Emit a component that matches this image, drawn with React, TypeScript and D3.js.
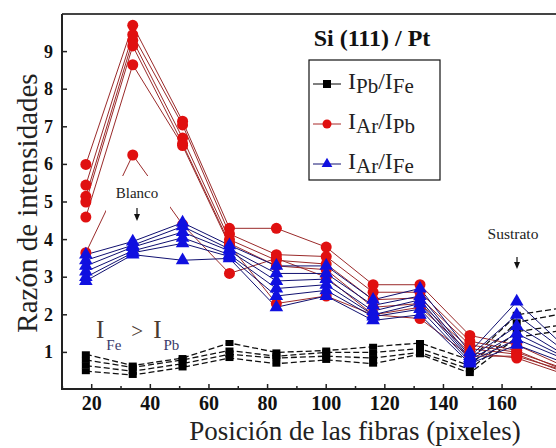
import React from 'react';
import * as d3 from 'd3';

// fibre positions (pixels)
const positions = [18, 34, 51, 67, 83, 100, 116, 132, 149, 165, 182];

// IAr/IPb (red circles), several runs
const arPb = [
  [6.0, 9.7, 7.15, 4.3, 4.3, 3.8, 2.8, 2.8, 1.45, 1.2, 0.6],
  [5.45, 9.45, 7.05, 4.15, 3.6, 3.55, 2.6, 2.6, 1.3, 1.05, 0.5],
  [5.15, 9.3, 6.7, 4.0, 3.45, 3.35, 2.4, 2.45, 1.2, 1.0, 0.55],
  [5.0, 9.15, 6.55, 3.9, 3.3, 3.2, 2.2, 2.3, 1.1, 0.95, 0.45],
  [4.6, 8.65, 6.5, 3.85, 2.3, 2.5, 2.0, 1.9, 0.9, 0.9, 0.5],
  [3.65, 6.25, 4.4, 3.1, 3.5, 3.0, 2.0, 2.2, 1.0, 0.85, 0.4],
];

// IAr/IFe (blue triangles)
const arFe = [
  [3.6, 3.95, 4.45, 3.85, 3.3, 3.3, 2.4, 2.7, 1.0, 2.35, 1.1],
  [3.45, 3.85, 4.35, 3.75, 3.1, 3.1, 2.25, 2.5, 0.9, 2.0, 1.0],
  [3.3, 3.8, 4.2, 3.7, 2.9, 2.95, 2.1, 2.4, 0.85, 1.7, 0.9],
  [3.15, 3.7, 4.05, 3.6, 2.7, 2.8, 2.0, 2.3, 0.8, 1.5, 0.85],
  [3.0, 3.65, 3.9, 3.55, 2.5, 2.65, 1.95, 2.15, 0.75, 1.35, 0.8],
  [2.9, 3.6, 3.45, 3.5, 2.2, 2.5, 1.85, 2.0, 0.7, 1.2, 0.7],
];

// IPb/IFe (black squares, dashed)
const pbFe = [
  [0.95, 0.65, 0.85, 1.25, 1.0, 1.05, 1.15, 1.25, 0.8, 2.0, 2.2],
  [0.8, 0.6, 0.8, 1.05, 0.9, 1.0, 1.0, 1.1, 0.65, 1.8, 2.05],
  [0.65, 0.5, 0.7, 0.95, 0.85, 0.9, 0.85, 1.0, 0.55, 1.55, 1.75],
  [0.5, 0.4, 0.6, 0.85, 0.7, 0.8, 0.7, 0.95, 0.45, 1.4, 1.6],
];

const xTicks = [20, 40, 60, 80, 100, 120, 140, 160];
const yTicks = [1, 2, 3, 4, 5, 6, 7, 8, 9];

const W = 556;
const H = 448;
const serif = { fontFamily: "'Liberation Serif', 'Times New Roman', 'DejaVu Serif', serif" };

export default function App() {
  const x = d3.scaleLinear().domain([10, 180]).range([62.4, 560.7]);
  const y = d3.scaleLinear().domain([0, 10]).range([390, 14]);
  const left = 62, right = 556, top = 14, bottom = 389;

  const line = d3.line<number>()
    .x((_, i) => x(positions[i]))
    .y(d => y(d));

  const minor = d3.range(10, 181, 10).filter(v => !xTicks.includes(v));
  const tri = d3.symbol().type(d3.symbolTriangle).size(80)();

  return (
    <div style={{ position: 'absolute', left: 0, top: 0 }}>
      <svg width={W} height={H} style={{ display: 'block', background: '#fff' }}>
        <defs>
          <clipPath id="plot">
            <rect x={left} y={top} width={right - left} height={bottom - top} />
          </clipPath>
        </defs>

        <g clipPath="url(#plot)">
          {/* lines */}
          {pbFe.map((s, k) => (
            <path key={'kl' + k} d={line(s) || ''} fill="none" stroke="#111" strokeWidth={1.3} strokeDasharray="6,3" />
          ))}
          {arPb.map((s, k) => (
            <path key={'rl' + k} d={line(s) || ''} fill="none" stroke="#9a2a2a" strokeWidth={1} />
          ))}
          {arFe.map((s, k) => (
            <path key={'bl' + k} d={line(s) || ''} fill="none" stroke="#101070" strokeWidth={1} />
          ))}

          {/* annotation boxes cover the lines */}
          <rect x={106} y={176} width={64} height={48} fill="#fff" />
          <rect x={482} y={222} width={62} height={48} fill="#fff" />

          {/* markers */}
          {pbFe.map((s, k) => s.map((v, i) => (
            <rect key={'km' + k + '-' + i} x={x(positions[i]) - 4} y={y(v) - 3} width={8} height={6} fill="#000" />
          )))}
          {arPb.map((s, k) => s.map((v, i) => (
            <circle key={'rm' + k + '-' + i} cx={x(positions[i])} cy={y(v)} r={5.5} fill="#e01010" />
          )))}
          {arFe.map((s, k) => s.map((v, i) => (
            <path key={'bm' + k + '-' + i} d={tri || ''} transform={`translate(${x(positions[i])},${y(v)})`} fill="#1010e0" />
          )))}
        </g>

        {/* frame */}
        <line x1={left} x2={right} y1={top} y2={top} stroke="#444" strokeWidth={2} />
        <line x1={left} x2={left} y1={top} y2={bottom + 1} stroke="#222" strokeWidth={2} />
        <line x1={left} x2={right} y1={bottom} y2={bottom} stroke="#222" strokeWidth={2} />

        {/* x axis */}
        {xTicks.map(t => (
          <g key={'xt' + t}>
            <line x1={x(t)} x2={x(t)} y1={bottom} y2={bottom - 5} stroke="#222" strokeWidth={1.5} />
            <text x={x(t)} y={410} textAnchor="middle" style={serif} fontWeight="bold" fontSize={20} fill="#111">{t}</text>
          </g>
        ))}
        {minor.map(t => (
          <line key={'xm' + t} x1={x(t)} x2={x(t)} y1={bottom} y2={bottom - 3} stroke="#222" strokeWidth={1.5} />
        ))}

        {/* y axis */}
        {yTicks.map(t => (
          <g key={'yt' + t}>
            <line x1={left} x2={left + 5} y1={y(t)} y2={y(t)} stroke="#222" strokeWidth={1.5} />
            <text x={53} y={y(t) + 6} textAnchor="end" style={serif} fontWeight="bold" fontSize={18} fill="#111">{t}</text>
          </g>
        ))}

        {/* axis titles */}
        <text transform="translate(37,203) rotate(-90)" textAnchor="middle" style={serif} fontSize={29} fill="#222">
          Razón de intensidades
        </text>
        <text x={355} y={440} textAnchor="middle" style={serif} fontSize={27} fill="#222">
          Posición de las fibras (pixeles)
        </text>

        {/* annotations */}
        <text x={137} y={198} textAnchor="middle" style={serif} fontSize={15} fill="#222">Blanco</text>
        <line x1={137} x2={137} y1={208} y2={219} stroke="#111" strokeWidth={1.2} />
        <path d="M134,214 L137,221 L140,214 Z" fill="#111" />
        <text x={513} y={239} textAnchor="middle" style={serif} fontSize={15.5} fill="#222">Sustrato</text>
        <line x1={517} x2={517} y1={257} y2={266} stroke="#111" strokeWidth={1.2} />
        <path d="M514,262 L517,269 L520,262 Z" fill="#111" />

        <text x={96} y={338} style={serif} fontSize={25} fill="#4a3a30">
          I<tspan fontSize={15} dy={12} dx={2} fill="#3a3a6a">Fe</tspan>
          <tspan dy={-12} dx={10} fontSize={21}>&gt;</tspan>
          <tspan dx={10}>I</tspan>
          <tspan fontSize={15} dy={12} dx={2} fill="#3a3a6a">Pb</tspan>
        </text>

        {/* title + legend */}
        <text x={372} y={46} textAnchor="middle" style={serif} fontWeight="bold" fontSize={24} fill="#111">Si (111) / Pt</text>
        <rect x={309} y={60} width={131} height={120} fill="#fff" stroke="#111" strokeWidth={1.2} />
        {[
          { c: '#000', m: 'sq', a: 'Pb', b: 'Fe' },
          { c: '#e01010', m: 'ci', a: 'Ar', b: 'Pb' },
          { c: '#1010e0', m: 'tr', a: 'Ar', b: 'Fe' },
        ].map((e, i) => {
          const ly = 84 + i * 40;
          return (
            <g key={'lg' + i}>
              <line x1={313} x2={341} y1={ly} y2={ly} stroke={i === 0 ? '#000' : i === 1 ? '#a82828' : '#101070'} strokeWidth={1} />
              {e.m === 'sq' && <rect x={323} y={ly - 4} width={8} height={8} fill={e.c} />}
              {e.m === 'ci' && <circle cx={327} cy={ly} r={4.5} fill={e.c} />}
              {e.m === 'tr' && <path d={d3.symbol().type(d3.symbolTriangle).size(50)() || ''} transform={`translate(327,${ly})`} fill={e.c} />}
              <text x={348} y={ly + 5} style={serif} fontSize={24} fill="#222">
                I<tspan dy={4} fontSize={21}>{e.a}</tspan>
                <tspan dy={-4}>/I</tspan>
                <tspan dy={4} fontSize={21}>{e.b}</tspan>
              </text>
            </g>
          );
        })}
      </svg>
    </div>
  );
}
